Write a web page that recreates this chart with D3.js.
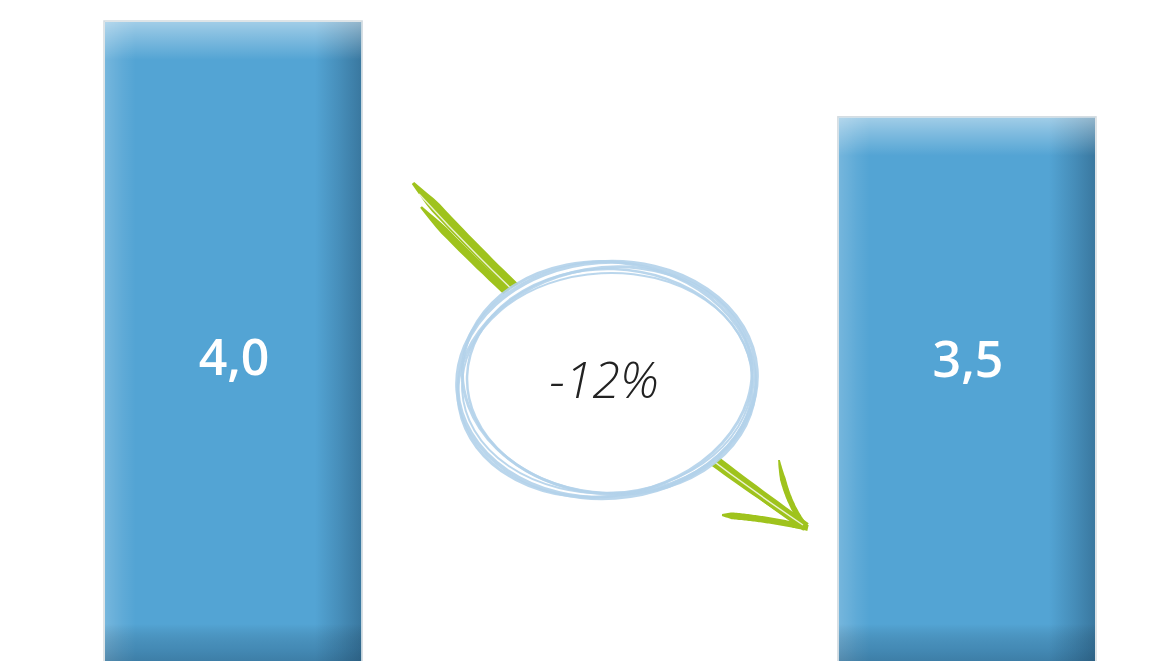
<!DOCTYPE html>
<html>
<head>
<meta charset="utf-8">
<script src="https://cdn.jsdelivr.net/npm/d3@7"></script>
<style>
  html, body { margin: 0; padding: 0; background: #ffffff; overflow: hidden; }
  svg { display: block; }
</style>
</head>
<body>
<script>
// ---- data ----
const categories = ["Före", "Efter"];
const values = [4.0, 3.5];
const valueLabels = ["4,0", "3,5"];
const changeLabel = "-12%";

// ---- layout ----
const W = 1153, H = 661;
const svg = d3.select("body").append("svg").attr("width", W).attr("height", H);
const defs = svg.append("defs");

const x = d3.scaleBand().domain(categories).range([105, 1095]).paddingInner(0.651).paddingOuter(0);
const yMin = 0.65;
const y = d3.scaleLinear().domain([yMin, 4.0]).range([664, 22]);

// gradients
function vGrad(id, h) {
  const g = defs.append("linearGradient").attr("id", id).attr("x1", 0).attr("y1", 0).attr("x2", 0).attr("y2", 1);
  const p = v => (v / h * 100) + "%";
  g.append("stop").attr("offset", "0%").attr("stop-color", "#ffffff").attr("stop-opacity", 0.45);
  g.append("stop").attr("offset", p(12)).attr("stop-color", "#ffffff").attr("stop-opacity", 0.30);
  g.append("stop").attr("offset", p(38)).attr("stop-color", "#ffffff").attr("stop-opacity", 0.0);
  g.append("stop").attr("offset", p(h - 40)).attr("stop-color", "#000000").attr("stop-opacity", 0.0);
  g.append("stop").attr("offset", p(h - 16)).attr("stop-color", "#10304a").attr("stop-opacity", 0.22);
  g.append("stop").attr("offset", "100%").attr("stop-color", "#10304a").attr("stop-opacity", 0.35);
}
const hg = defs.append("linearGradient").attr("id", "hgrad").attr("x1", 0).attr("y1", 0).attr("x2", 1).attr("y2", 0);
[[0, "#ffffff", 0.2], [0.07, "#ffffff", 0.07], [0.12, "#ffffff", 0.0], [0.82, "#10304a", 0.0], [0.92, "#10304a", 0.2], [1, "#10304a", 0.38]]
  .forEach(([o, c, a]) => hg.append("stop").attr("offset", o).attr("stop-color", c).attr("stop-opacity", a));

const bars = svg.append("g");
categories.forEach((c, i) => {
  const bx = x(c), bw = x.bandwidth(), by = y(values[i]), bh = y(yMin) - y(values[i]);
  vGrad("vg" + i, bh);
  bars.append("rect").attr("x", bx - 1).attr("y", by - 1).attr("width", bw + 2).attr("height", bh + 2)
    .attr("fill", "none").attr("stroke", "#d3dbe0").attr("stroke-width", 1.5);
  bars.append("rect").attr("x", bx).attr("y", by).attr("width", bw).attr("height", bh).attr("fill", "#53a4d4");
  bars.append("rect").attr("x", bx).attr("y", by).attr("width", bw).attr("height", bh).attr("fill", "url(#hgrad)");
  bars.append("rect").attr("x", bx).attr("y", by).attr("width", bw).attr("height", bh).attr("fill", "url(#vg" + i + ")");
  bars.append("text").attr("x", bx + bw / 2 + 1).attr("y", 375 + i * 2)
    .attr("text-anchor", "middle")
    .attr("font-family", "'Open Sans', sans-serif").attr("font-weight", 600).attr("font-size", 50)
    .attr("fill", "#ffffff").text(valueLabels[i]);
});

// ---- green arrow (tapered hand-drawn strokes) ----
const green = "#9fc31d";
function taper(p0, c, p1, wmax, startFrac, endW) {
  const n = 60, left = [], right = [];
  for (let k = 0; k <= n; k++) {
    const t = k / n, mt = 1 - t;
    const px = mt * mt * p0[0] + 2 * mt * t * c[0] + t * t * p1[0];
    const py = mt * mt * p0[1] + 2 * mt * t * c[1] + t * t * p1[1];
    let dx = 2 * mt * (c[0] - p0[0]) + 2 * t * (p1[0] - c[0]);
    let dy = 2 * mt * (c[1] - p0[1]) + 2 * t * (p1[1] - c[1]);
    const L = Math.hypot(dx, dy); dx /= L; dy /= L;
    const w = (t < startFrac ? (0.3 + 0.7 * t / startFrac) : 1) * wmax * (1 - (1 - endW) * t) / 2;
    left.push([px - dy * w, py + dx * w]);
    right.push([px + dy * w, py - dx * w]);
  }
  return "M" + left.concat(right.reverse()).map(p => p[0].toFixed(1) + "," + p[1].toFixed(1)).join("L") + "Z";
}
const arrow = svg.append("g").attr("fill", green);
arrow.append("path").attr("d", taper([413, 183], [583, 370], [806, 527], 11, 0.06, 0.85));
arrow.append("path").attr("d", taper([421, 207], [594, 388], [801, 523], 8, 0.06, 0.9));
svg.append("path").attr("d", "M419,194 Q589,380 803,525").attr("fill", "none")
  .attr("stroke", "#ffffff").attr("stroke-width", 1.4).attr("opacity", 0.8);
arrow.append("path").attr("d", taper([779, 460], [785, 500], [805, 526], 6, 0.25, 0.9));
arrow.append("path").attr("d", taper([722, 515], [765, 518], [808, 528], 7, 0.12, 0.85));

// ---- sketched ellipse ----
const ell = svg.append("g");
ell.append("ellipse").attr("cx", 607).attr("cy", 380).attr("rx", 150).attr("ry", 119).attr("fill", "#ffffff");
const loops = [
  { dx: 0, dy: 0, rx: 150, ry: 118, rot: -4, w: 4 },
  { dx: 2, dy: -2, rx: 147, ry: 116, rot: 6, w: 3 },
  { dx: -2, dy: 2, rx: 148, ry: 114, rot: -10, w: 3 },
  { dx: 3, dy: 1, rx: 143, ry: 112, rot: 2, w: 2.5 },
  { dx: 0, dy: 3, rx: 145, ry: 110, rot: -3, w: 2 }
];
loops.forEach(l => {
  ell.append("ellipse").attr("cx", 607 + l.dx).attr("cy", 380 + l.dy).attr("rx", l.rx).attr("ry", l.ry)
    .attr("transform", `rotate(${l.rot},${607 + l.dx},${380 + l.dy})`)
    .attr("fill", "none").attr("stroke", "#b3d1ea").attr("stroke-width", l.w).attr("opacity", 0.9);
});
ell.append("text").attr("x", 604).attr("y", 398).attr("text-anchor", "middle")
  .attr("font-family", "'Open Sans', sans-serif").attr("font-style", "italic").attr("font-weight", 300)
  .attr("font-size", 50).attr("fill", "#222222").text(changeLabel);
</script>
</body>
</html>
